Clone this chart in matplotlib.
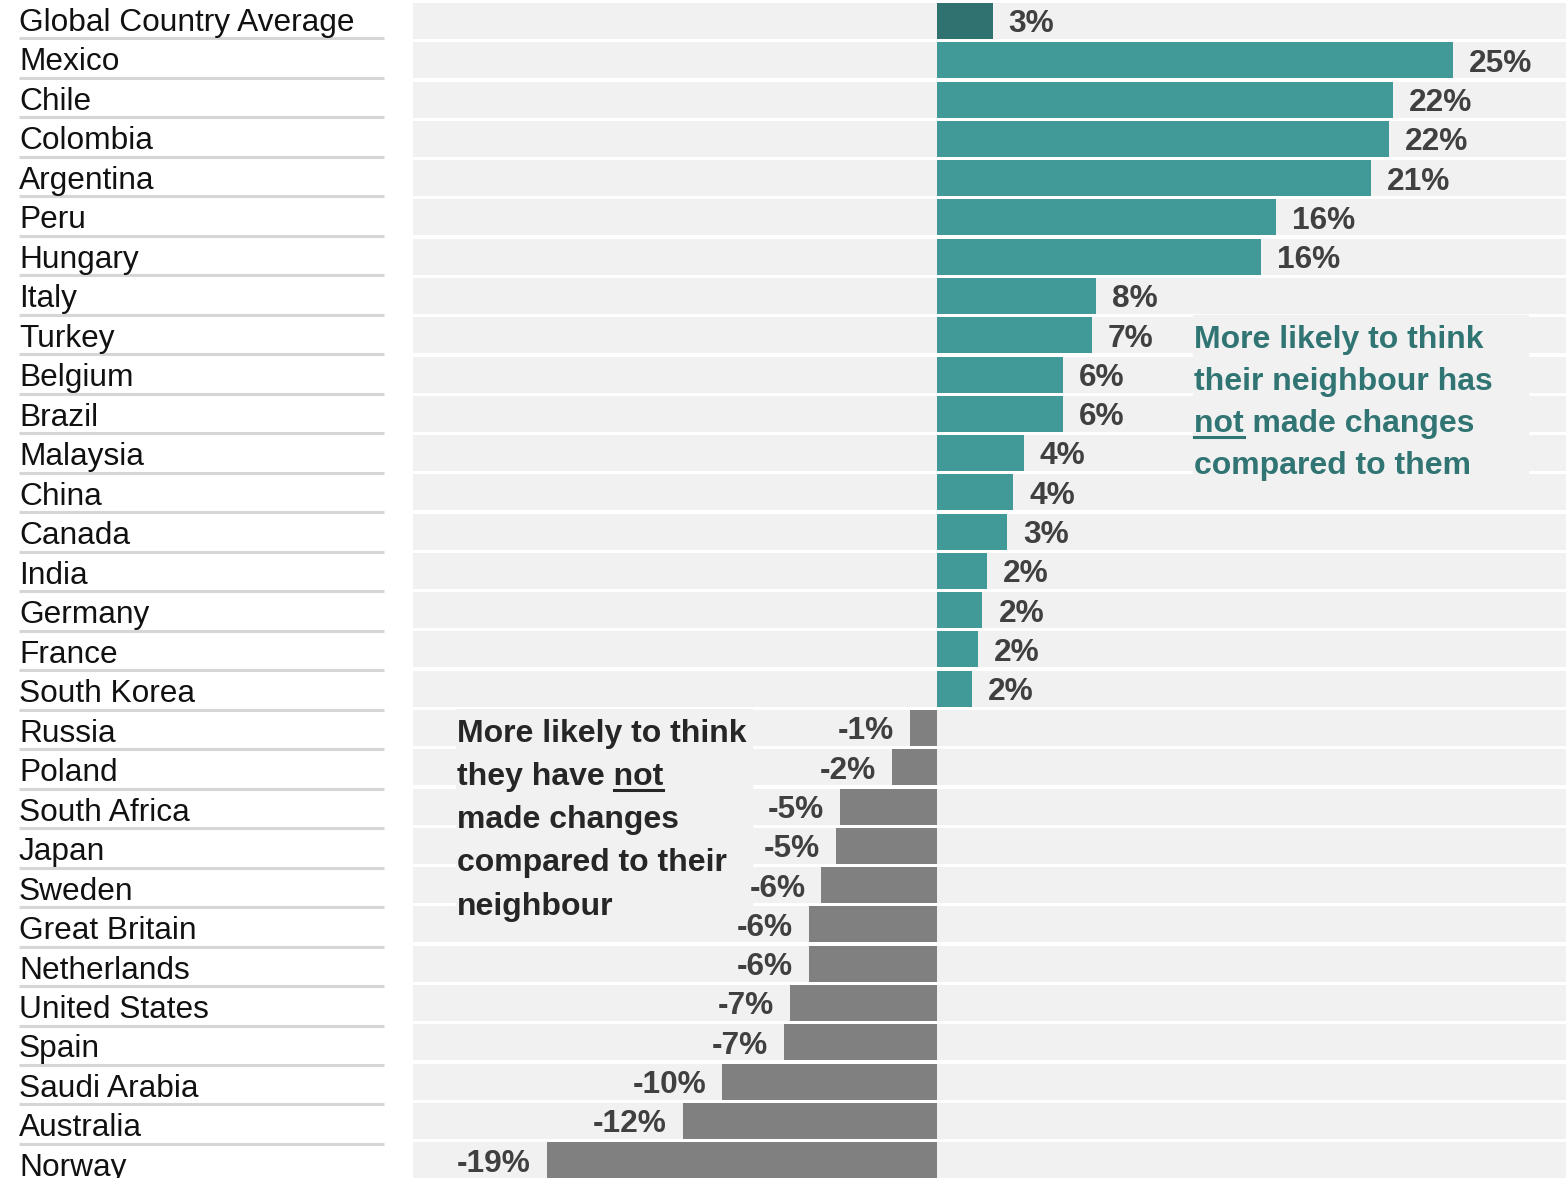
import matplotlib.pyplot as plt
from matplotlib.patches import Rectangle
from matplotlib.lines import Line2D
from matplotlib.transforms import IdentityTransform

countries = ["Global Country Average", "Mexico", "Chile", "Colombia", "Argentina",
             "Peru", "Hungary", "Italy", "Turkey", "Belgium", "Brazil", "Malaysia",
             "China", "Canada", "India", "Germany", "France", "South Korea", "Russia",
             "Poland", "South Africa", "Japan", "Sweden", "Great Britain", "Netherlands",
             "United States", "Spain", "Saudi Arabia", "Australia", "Norway"]
values = [2.7, 25.0, 22.1, 21.9, 21.0, 16.4, 15.7, 7.7, 7.5, 6.1, 6.1, 4.2,
          3.7, 3.4, 2.4, 2.2, 2.0, 1.7, -1.3, -2.2, -4.7, -4.9, -5.6, -6.2,
          -6.2, -7.1, -7.4, -10.4, -12.3, -18.9]
value_labels = ["3%", "25%", "22%", "22%", "21%", "16%", "16%", "8%", "7%", "6%",
                "6%", "4%", "4%", "3%", "2%", "2%", "2%", "2%", "-1%", "-2%",
                "-5%", "-5%", "-6%", "-6%", "-6%", "-7%", "-7%", "-10%", "-12%", "-19%"]

pos_note = ["More likely to think", "their neighbour has", "not made changes",
            "compared to them"]
neg_note = ["More likely to think", "they have not", "made changes",
            "compared to their", "neighbour"]

TEAL = "#429a98"
TEAL_DARK = "#2f7270"
GREY = "#808080"
BAND = "#f1f1f1"
FONT = "Liberation Sans"

plt.rcParams["font.family"] = FONT

fig = plt.figure(figsize=(15.66, 11.78), dpi=100)
n = len(countries)
W, H = 1566, 1178
px_row = 39.28
top_px = 21 - px_row / 2
bottom_px = top_px + n * px_row
ax_b = 1 - bottom_px / H
ax_h = (bottom_px - top_px) / H

# bar panel
ax = fig.add_axes([413 / W, ax_b, (W - 413) / W, ax_h])
xmin, xmax = -25.375, 30.46
ax.set_xlim(xmin, xmax)
ax.set_ylim(n - 0.5, -0.5)
ax.axis("off")

y = list(range(n))
bh = 0.916
ax.barh(y, [xmax - xmin] * n, left=xmin, height=bh, color=BAND, zorder=1)
colors = [TEAL_DARK] + [TEAL if v > 0 else GREY for v in values[1:]]
ax.barh(y, values, height=bh, color=colors, zorder=2)

for i, (v, lab) in enumerate(zip(values, value_labels)):
    ax.annotate(lab, xy=(v, i), xytext=(11.5 if v > 0 else -11.5, -8.2),
                textcoords="offset points", ha="left" if v > 0 else "right",
                va="baseline", fontsize=22.8, fontweight="bold", color="#404040",
                zorder=4)

# note boxes
ax.add_patch(Rectangle((12.4, 7.48), 28.6 - 12.4, 11.63 - 7.48, color=BAND, zorder=3))
ax.add_patch(Rectangle((-23.3, 17.52), -8.96 + 23.3, 23.0 - 17.52, color=BAND, zorder=3))

pos_texts = []
for k, line in enumerate(pos_note):
    pos_texts.append(ax.text(12.45, 8.32 + k * 1.069, line, fontsize=23,
                             fontweight="bold", color="#307573", va="baseline",
                             ha="left", zorder=4))
neg_texts = []
for k, line in enumerate(neg_note):
    neg_texts.append(ax.text(-23.24, 18.35 + k * 1.10, line, fontsize=23,
                             fontweight="bold", color="#262626", va="baseline",
                             ha="left", zorder=4))

# label panel (rows slightly taller than the bar rows)
lab_row = 39.48
lab_top = 38.5 - lab_row
lab_bot = lab_top + n * lab_row
axl = fig.add_axes([0, 1 - lab_bot / H, 413 / W, (lab_bot - lab_top) / H])
axl.set_xlim(0, 413)
axl.set_ylim(n - 0.5, -0.5)
axl.axis("off")
for i, c in enumerate(countries):
    axl.text(19, i + 0.5 - 7.5 / lab_row, c, fontsize=22.8, color="#111111",
             va="baseline", ha="left")
axl.hlines([i + 0.5 for i in y], 19, 384, color="#d6d6d6", lw=2.2)

# underline "not" in both notes
fig.canvas.draw()
r = fig.canvas.get_renderer()
tmp = ax.text(0, 0, "not", fontsize=23, fontweight="bold")
w_not = tmp.get_window_extent(r).width
tmp.remove()


def underline(t, x0, color):
    yb = ax.transData.transform(t.get_position())[1] - 5.5
    fig.add_artist(Line2D([x0, x0 + w_not], [yb, yb], transform=IdentityTransform(),
                          color=color, lw=2.2, zorder=5))


bb = pos_texts[2].get_window_extent(r)
underline(pos_texts[2], bb.x0, "#307573")
bb = neg_texts[1].get_window_extent(r)
underline(neg_texts[1], bb.x1 - w_not, "#262626")

fig.savefig("out.png", dpi=100)
